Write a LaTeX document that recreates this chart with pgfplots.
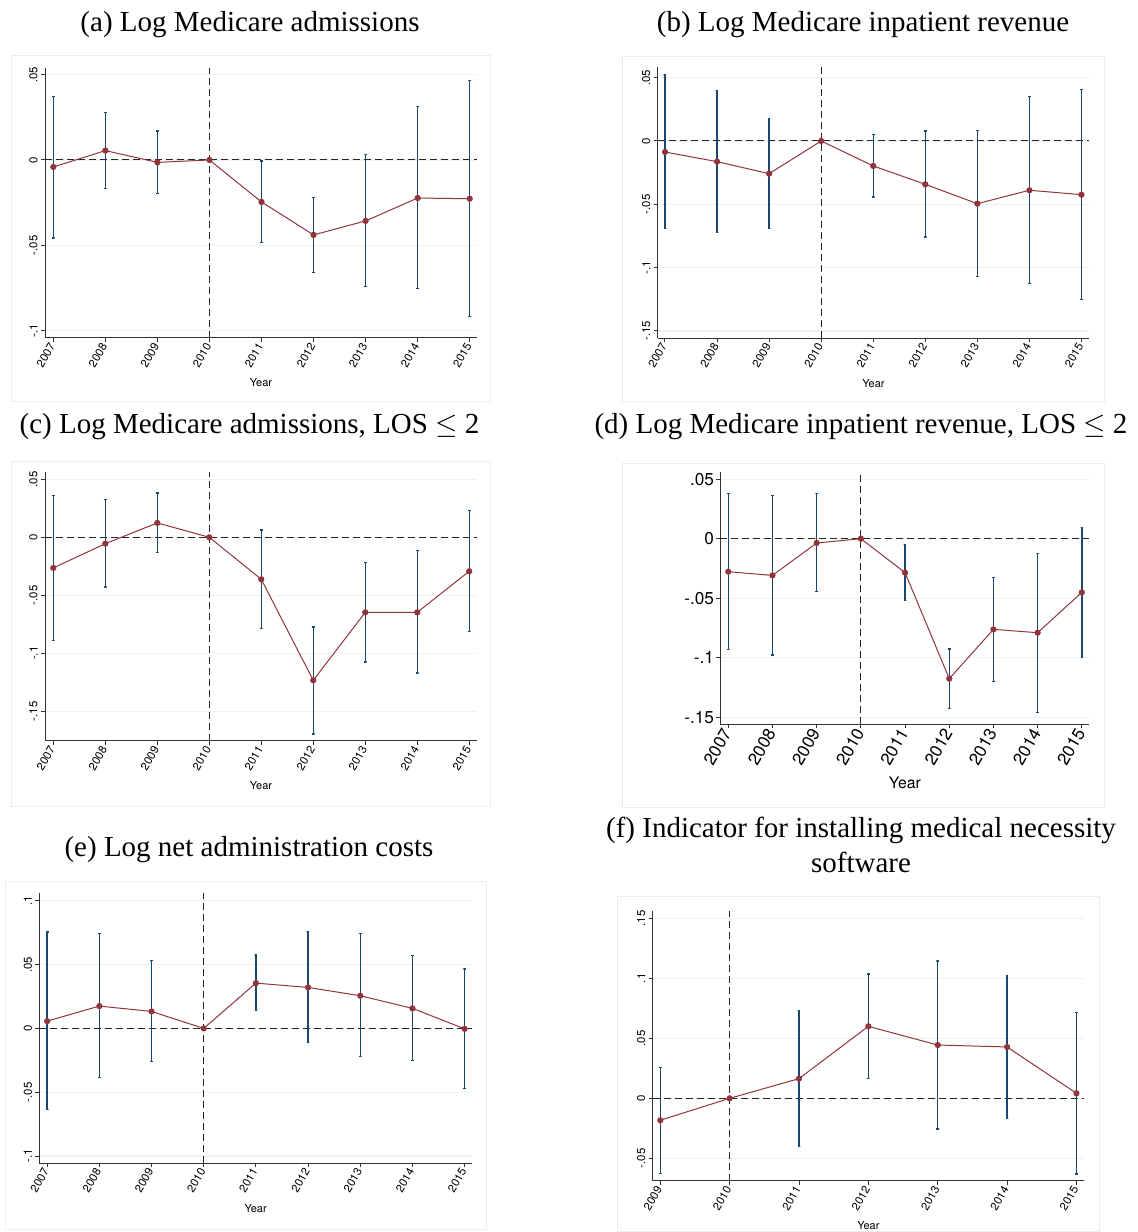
\documentclass[border=0pt]{standalone}
\usepackage{fontspec}
\setmainfont{Liberation Serif}
\newfontfamily\hv{TeX Gyre Heros}
\usepackage{pgfplots}
\usepackage{pgfplotstable}
\pgfplotsset{compat=1.18}

\definecolor{navyc}{RGB}{26,71,111}
\definecolor{maroonc}{RGB}{144,53,59}
\definecolor{gridc}{RGB}{234,242,243}
\definecolor{framec}{RGB}{236,236,236}

\pgfplotsset{
 stata/.style={
  scale only axis, anchor=south west,
  axis x line*=bottom, axis y line*=left,
  axis line style={-, black!80, line width=0.5pt},
  tick align=outside, major tick length=2pt,
  tick style={black!80, line width=0.5pt},
  ymajorgrids, grid style={gridc, line width=0.6pt},
  ticklabel style={font=\hv\fontsize{5.7}{6}\selectfont, text=black},
  xticklabel style={rotate=60, anchor=east, inner sep=1pt},
  xlabel={Year},
  xlabel style={font=\hv\fontsize{5.5}{6}\selectfont, at={(axis description cs:0.5,0)}, anchor=center, yshift=-22.5pt},
  xtick={2007,2008,2009,2010,2011,2012,2013,2014,2015},
  xticklabels={2007,2008,2009,2010,2011,2012,2013,2014,2015},
 },
 roty/.style={yticklabel style={rotate=90, anchor=south, inner sep=1.5pt}},
 ci/.style={navyc, line width=0.7pt, solid, no markers, unbounded coords=jump, line join=miter},
 est/.style={maroonc, line width=0.5pt, mark=*, mark size=1.3pt, mark options={solid, fill=maroonc, draw=maroonc}},
 ref/.style={black!85, line width=0.5pt, dash pattern=on 3.5pt off 2pt},
}

% point estimates (year, coefficient)
\pgfplotstableread{
x y
2007 -0.0041
2008 0.0055
2009 -0.0014
2010 0
2011 -0.0246
2012 -0.0439
2013 -0.0357
2014 -0.0223
2015 -0.0227
}\tabA
\pgfplotstableread{
x y
2007 -0.0087
2008 -0.0163
2009 -0.0258
2010 0
2011 -0.0197
2012 -0.0342
2013 -0.0495
2014 -0.0389
2015 -0.0424
}\tabB
\pgfplotstableread{
x y
2007 -0.0264
2008 -0.0055
2009 0.0124
2010 0
2011 -0.0362
2012 -0.1233
2013 -0.0647
2014 -0.0647
2015 -0.0293
}\tabC
\pgfplotstableread{
x y
2007 -0.0277
2008 -0.0308
2009 -0.0036
2010 0
2011 -0.0285
2012 -0.1175
2013 -0.0761
2014 -0.0789
2015 -0.0450
}\tabD
\pgfplotstableread{
x y
2007 0.0057
2008 0.0175
2009 0.0133
2010 0
2011 0.0355
2012 0.0321
2013 0.0256
2014 0.0157
2015 -0.0003
}\tabE
\pgfplotstableread{
x y
2009 -0.0183
2010 0
2011 0.0164
2012 0.0600
2013 0.0444
2014 0.0428
2015 0.0042
}\tabF

\begin{document}
\begin{tikzpicture}
\path[use as bounding box] (0,0) rectangle (568.5pt,616pt);

% graph region frames
\draw[framec, line width=0.5pt] (5.5pt,415pt) rectangle (245pt,588pt);
\draw[framec, line width=0.5pt] (311pt,415pt) rectangle (552pt,587.5pt);
\draw[framec, line width=0.5pt] (5.5pt,212.5pt) rectangle (245pt,385pt);
\draw[framec, line width=0.5pt] (311pt,212pt) rectangle (552pt,384pt);
\draw[framec, line width=0.5pt] (2.5pt,1pt) rectangle (243pt,175pt);
\draw[framec, line width=0.5pt] (308.5pt,0.3pt) rectangle (549.5pt,167.5pt);

% titles
\begin{scope}[every node/.style={anchor=base, font=\fontsize{14.5}{17}\selectfont, inner sep=0pt}]
\node at (125pt,600pt) {(a) Log Medicare admissions};
\node at (431.5pt,600pt) {(b) Log Medicare inpatient revenue};
\node at (124.75pt,399pt) {(c) Log Medicare admissions, LOS $\leq$ 2};
\node at (430.5pt,399pt) {(d) Log Medicare inpatient revenue, LOS $\leq$ 2};
\node at (124.5pt,187.5pt) {(e) Log net administration costs};
\node at (430.5pt,197pt) {(f) Indicator for installing medical necessity};
\node at (430.5pt,179.5pt) {software};
\end{scope}

% (a)
\begin{axis}[stata, roty, at={(22.5pt,447pt)}, width=216pt, height=135pt,
  xmin=2006.84, xmax=2015.14, ymin=-0.1043, ymax=0.0539,
  ytick={-0.1,-0.05,0,0.05}, yticklabels={-.1,-.05,0,.05}]
\addplot[ref] coordinates {(2006.84,0) (2015.14,0)};
\addplot[ref] coordinates {(2010,-0.1043) (2010,0.0539)};
\addplot[ci] coordinates {
(2006.974,-0.0457) (2007.026,-0.0457) (2007,-0.0457) (2007,0.0373) (2006.974,0.0373) (2007.026,0.0373) (2007,nan)
(2007.974,-0.0168) (2008.026,-0.0168) (2008,-0.0168) (2008,0.0279) (2007.974,0.0279) (2008.026,0.0279) (2008,nan)
(2008.974,-0.0197) (2009.026,-0.0197) (2009,-0.0197) (2009,0.0170) (2008.974,0.0170) (2009.026,0.0170) (2009,nan)
(2010.974,-0.0484) (2011.026,-0.0484) (2011,-0.0484) (2011,-0.0006) (2010.974,-0.0006) (2011.026,-0.0006) (2011,nan)
(2011.974,-0.0658) (2012.026,-0.0658) (2012,-0.0658) (2012,-0.0221) (2011.974,-0.0221) (2012.026,-0.0221) (2012,nan)
(2012.974,-0.0742) (2013.026,-0.0742) (2013,-0.0742) (2013,0.0033) (2012.974,0.0033) (2013.026,0.0033) (2013,nan)
(2013.974,-0.0754) (2014.026,-0.0754) (2014,-0.0754) (2014,0.0314) (2013.974,0.0314) (2014.026,0.0314) (2014,nan)
(2014.974,-0.0916) (2015.026,-0.0916) (2015,-0.0916) (2015,0.0467) (2014.974,0.0467) (2015.026,0.0467)
};
\addplot[est] table[x=x, y=y] {\tabA};
\end{axis}

% (b)
\begin{axis}[stata, roty, at={(328.85pt,446.85pt)}, width=215.8pt, height=135.5pt,
  xmin=2006.86, xmax=2015.15, ymin=-0.1558, ymax=0.0582,
  ytick={-0.15,-0.1,-0.05,0,0.05}, yticklabels={-.15,-.1,-.05,0,.05}]
\addplot[ref] coordinates {(2006.86,0) (2015.15,0)};
\addplot[ref] coordinates {(2010,-0.1558) (2010,0.0582)};
\addplot[ci] coordinates {
(2006.974,-0.0689) (2007.026,-0.0689) (2007,-0.0689) (2007,0.0521) (2006.974,0.0521) (2007.026,0.0521) (2007,nan)
(2007.974,-0.0721) (2008.026,-0.0721) (2008,-0.0721) (2008,0.0397) (2007.974,0.0397) (2008.026,0.0397) (2008,nan)
(2008.974,-0.0689) (2009.026,-0.0689) (2009,-0.0689) (2009,0.0176) (2008.974,0.0176) (2009.026,0.0176) (2009,nan)
(2010.974,-0.0442) (2011.026,-0.0442) (2011,-0.0442) (2011,0.0053) (2010.974,0.0053) (2011.026,0.0053) (2011,nan)
(2011.974,-0.0758) (2012.026,-0.0758) (2012,-0.0758) (2012,0.0079) (2011.974,0.0079) (2012.026,0.0079) (2012,nan)
(2012.974,-0.1071) (2013.026,-0.1071) (2013,-0.1071) (2013,0.0082) (2012.974,0.0082) (2013.026,0.0082) (2013,nan)
(2013.974,-0.1126) (2014.026,-0.1126) (2014,-0.1126) (2014,0.0350) (2013.974,0.0350) (2014.026,0.0350) (2014,nan)
(2014.974,-0.1250) (2015.026,-0.1250) (2015,-0.1250) (2015,0.0405) (2014.974,0.0405) (2015.026,0.0405)
};
\addplot[est] table[x=x, y=y] {\tabB};
\end{axis}

% (c)
\begin{axis}[stata, roty, at={(22.5pt,245.5pt)}, width=216pt, height=134.5pt,
  xmin=2006.84, xmax=2015.15, ymin=-0.1756, ymax=0.0563,
  ytick={-0.15,-0.1,-0.05,0,0.05}, yticklabels={-.15,-.1,-.05,0,.05}]
\addplot[ref] coordinates {(2006.84,0) (2015.15,0)};
\addplot[ref] coordinates {(2010,-0.1756) (2010,0.0563)};
\addplot[ci] coordinates {
(2006.974,-0.0891) (2007.026,-0.0891) (2007,-0.0891) (2007,0.0359) (2006.974,0.0359) (2007.026,0.0359) (2007,nan)
(2007.974,-0.0428) (2008.026,-0.0428) (2008,-0.0428) (2008,0.0325) (2007.974,0.0325) (2008.026,0.0325) (2008,nan)
(2008.974,-0.0132) (2009.026,-0.0132) (2009,-0.0132) (2009,0.0382) (2008.974,0.0382) (2009.026,0.0382) (2009,nan)
(2010.974,-0.0787) (2011.026,-0.0787) (2011,-0.0787) (2011,0.0063) (2010.974,0.0063) (2011.026,0.0063) (2011,nan)
(2011.974,-0.1695) (2012.026,-0.1695) (2012,-0.1695) (2012,-0.0773) (2011.974,-0.0773) (2012.026,-0.0773) (2012,nan)
(2012.974,-0.1075) (2013.026,-0.1075) (2013,-0.1075) (2013,-0.0216) (2012.974,-0.0216) (2013.026,-0.0216) (2013,nan)
(2013.974,-0.1170) (2014.026,-0.1170) (2014,-0.1170) (2014,-0.0112) (2013.974,-0.0112) (2014.026,-0.0112) (2014,nan)
(2014.974,-0.0813) (2015.026,-0.0813) (2015,-0.0813) (2015,0.0230) (2014.974,0.0230) (2015.026,0.0230)
};
\addplot[est] table[x=x, y=y] {\tabC};
\end{axis}

% (d)
\begin{axis}[stata, at={(360.17pt,253.83pt)}, width=184.5pt, height=126.3pt,
  xmin=2006.82, xmax=2015.17, ymin=-0.1558, ymax=0.0562,
  ytick={-0.15,-0.1,-0.05,0,0.05}, yticklabels={-.15,-.1,-.05,0,.05},
  ticklabel style={font=\hv\fontsize{8.6}{9}\selectfont},
  yticklabel style={anchor=east, inner sep=1pt},
  xlabel style={font=\hv\fontsize{7.9}{9}\selectfont, yshift=-7pt}]
\addplot[ref] coordinates {(2006.82,0) (2015.17,0)};
\addplot[ref] coordinates {(2010,-0.1558) (2010,0.0562)};
\addplot[ci] coordinates {
(2006.970,-0.0929) (2007.030,-0.0929) (2007,-0.0929) (2007,0.0378) (2006.970,0.0378) (2007.030,0.0378) (2007,nan)
(2007.970,-0.0976) (2008.030,-0.0976) (2008,-0.0976) (2008,0.0361) (2007.970,0.0361) (2008.030,0.0361) (2008,nan)
(2008.970,-0.0445) (2009.030,-0.0445) (2009,-0.0445) (2009,0.0378) (2008.970,0.0378) (2009.030,0.0378) (2009,nan)
(2010.970,-0.0520) (2011.030,-0.0520) (2011,-0.0520) (2011,-0.0050) (2010.970,-0.0050) (2011.030,-0.0050) (2011,nan)
(2011.970,-0.1424) (2012.030,-0.1424) (2012,-0.1424) (2012,-0.0926) (2011.970,-0.0926) (2012.030,-0.0926) (2012,nan)
(2012.970,-0.1197) (2013.030,-0.1197) (2013,-0.1197) (2013,-0.0324) (2012.970,-0.0324) (2013.030,-0.0324) (2013,nan)
(2013.970,-0.1457) (2014.030,-0.1457) (2014,-0.1457) (2014,-0.0123) (2013.970,-0.0123) (2014.030,-0.0123) (2014,nan)
(2014.970,-0.0996) (2015.030,-0.0996) (2015,-0.0996) (2015,0.0095) (2014.970,0.0095) (2015.030,0.0095)
};
\addplot[est] table[x=x, y=y] {\tabD};
\end{axis}

% (e)
\begin{axis}[stata, roty, at={(19.67pt,34.33pt)}, width=216.3pt, height=135.3pt,
  xmin=2006.85, xmax=2015.14, ymin=-0.1057, ymax=0.1063,
  ytick={-0.1,-0.05,0,0.05,0.1}, yticklabels={-.1,-.05,0,.05,.1}]
\addplot[ref] coordinates {(2006.85,0) (2015.14,0)};
\addplot[ref] coordinates {(2010,-0.1057) (2010,0.1063)};
\addplot[ci] coordinates {
(2006.974,-0.0634) (2007.026,-0.0634) (2007,-0.0634) (2007,0.0755) (2006.974,0.0755) (2007.026,0.0755) (2007,nan)
(2007.974,-0.0386) (2008.026,-0.0386) (2008,-0.0386) (2008,0.0742) (2007.974,0.0742) (2008.026,0.0742) (2008,nan)
(2008.974,-0.0261) (2009.026,-0.0261) (2009,-0.0261) (2009,0.0530) (2008.974,0.0530) (2009.026,0.0530) (2009,nan)
(2010.974,0.0141) (2011.026,0.0141) (2011,0.0141) (2011,0.0574) (2010.974,0.0574) (2011.026,0.0574) (2011,nan)
(2011.974,-0.0110) (2012.026,-0.0110) (2012,-0.0110) (2012,0.0757) (2011.974,0.0757) (2012.026,0.0757) (2012,nan)
(2012.974,-0.0219) (2013.026,-0.0219) (2013,-0.0219) (2013,0.0742) (2012.974,0.0742) (2013.026,0.0742) (2013,nan)
(2013.974,-0.0253) (2014.026,-0.0253) (2014,-0.0253) (2014,0.0572) (2013.974,0.0572) (2014.026,0.0572) (2014,nan)
(2014.974,-0.0470) (2015.026,-0.0470) (2015,-0.0470) (2015,0.0467) (2014.974,0.0467) (2015.026,0.0467)
};
\addplot[est] table[x=x, y=y] {\tabE};
\end{axis}

% (f)
\begin{axis}[stata, roty, at={(326.33pt,25.5pt)}, width=215.7pt, height=135pt,
  xmin=2008.89, xmax=2015.11, ymin=-0.0689, ymax=0.1561,
  xtick={2009,2010,2011,2012,2013,2014,2015},
  xticklabels={2009,2010,2011,2012,2013,2014,2015},
  ytick={-0.05,0,0.05,0.1,0.15}, yticklabels={-.05,0,.05,.1,.15}]
\addplot[ref] coordinates {(2008.89,0) (2015.11,0)};
\addplot[ref] coordinates {(2010,-0.0689) (2010,0.1561)};
\addplot[ci] coordinates {
(2008.981,-0.0625) (2009.019,-0.0625) (2009,-0.0625) (2009,0.0256) (2008.981,0.0256) (2009.019,0.0256) (2009,nan)
(2010.981,-0.0400) (2011.019,-0.0400) (2011,-0.0400) (2011,0.0731) (2010.981,0.0731) (2011.019,0.0731) (2011,nan)
(2011.981,0.0167) (2012.019,0.0167) (2012,0.0167) (2012,0.1036) (2011.981,0.1036) (2012.019,0.1036) (2012,nan)
(2012.981,-0.0256) (2013.019,-0.0256) (2013,-0.0256) (2013,0.1144) (2012.981,0.1144) (2013.019,0.1144) (2013,nan)
(2013.981,-0.0167) (2014.019,-0.0167) (2014,-0.0167) (2014,0.1022) (2013.981,0.1022) (2014.019,0.1022) (2014,nan)
(2014.981,-0.0631) (2015.019,-0.0631) (2015,-0.0631) (2015,0.0714) (2014.981,0.0714) (2015.019,0.0714)
};
\addplot[est] table[x=x, y=y] {\tabF};
\end{axis}
\end{tikzpicture}
\end{document}
